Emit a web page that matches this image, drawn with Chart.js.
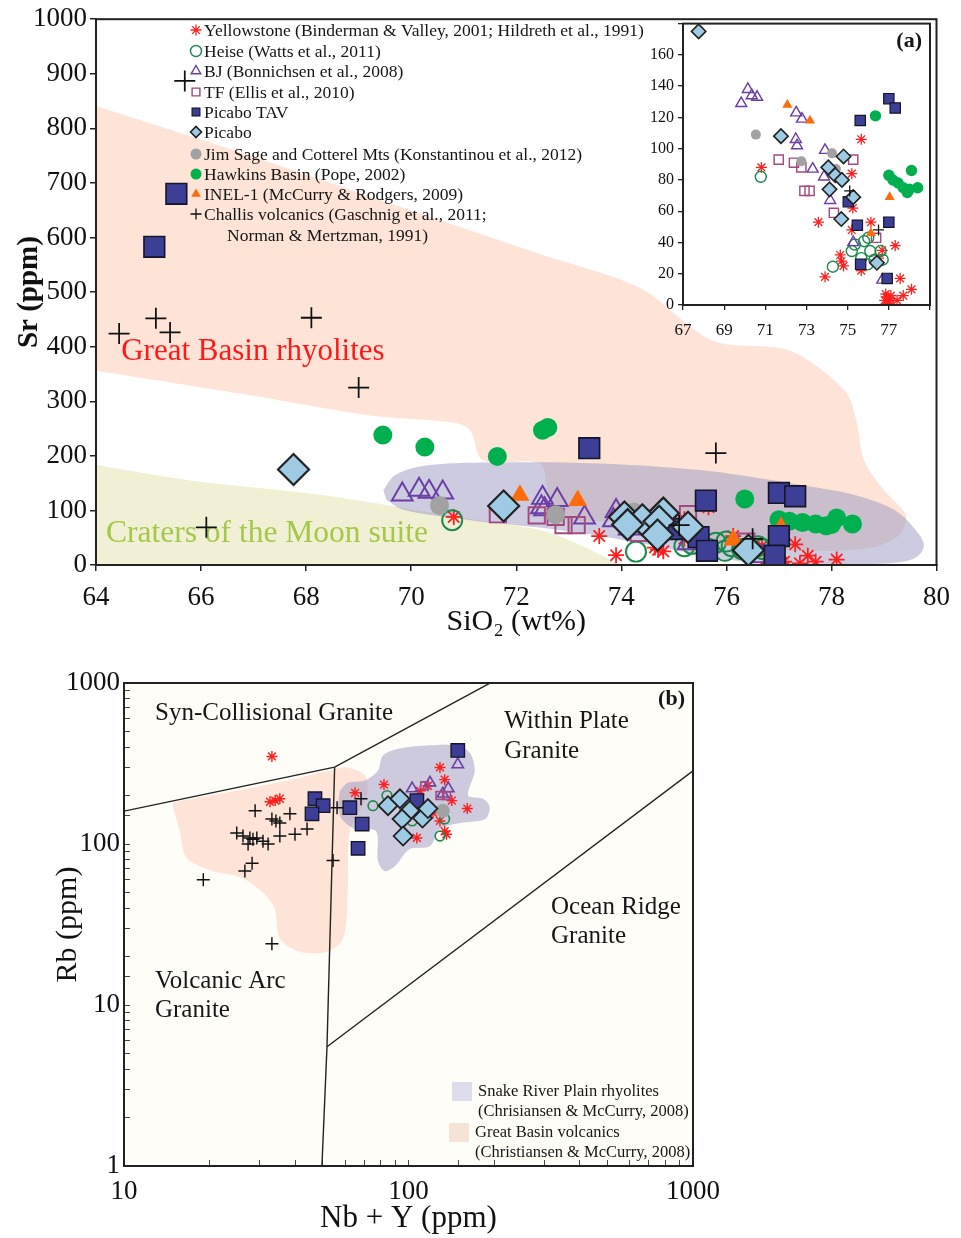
<!DOCTYPE html>
<html><head><meta charset="utf-8">
<script src="https://cdn.jsdelivr.net/npm/chart.js@4.4.1/dist/chart.umd.min.js"></script>
<style>
html,body{margin:0;padding:0;background:#fff;}
#wrap{position:relative;width:961px;height:1238px;overflow:hidden;}
canvas{position:absolute;}
</style></head><body>
<div id="wrap">
<canvas id="ca" style="left:0;top:0" width="961" height="645"></canvas>
<canvas id="ci" style="left:640px;top:10px" width="300" height="335"></canvas>
<canvas id="cb" style="left:0;top:650px" width="961" height="588"></canvas>
</div>
<script>
// ---------------- DATA: panel (a)  [SiO2 wt%, Sr ppm] ----------------
const yellowstoneA = [[75.66,106],[70.81,88],[75.2,84],[75.25,62],[73.58,53],[76.13,53],[75.2,48],[74.64,32],[74.8,25],[73.9,18],[75.66,22],[76.68,35],[77.31,38],[77.55,17],[78.1,10],[77.4,3],[77.7,6],[76.9,5],[77.0,2],[76.85,7],[77.05,4],[76.95,1],[76.8,3],[77.1,6],[76.5,30],[74.7,28]];
const heiseA = [[70.78,82],[74.28,24.5],[75.35,38.7],[75.8,40.8],[76.1,34.5],[76.3,29],[76.7,29],[75.97,26],[75.66,30],[76.6,34.5],[75.2,34.5],[76.0,43]];
const bjA = [[70.15,138],[69.83,129],[70.34,134],[70.6,133],[72.5,123],[72.78,119],[72.48,106],[72.54,102],[73.3,87],[73.9,99],[73.85,82],[74.15,67],[75.27,40],[76.68,16]];
const tfA = [[71.65,93],[72.39,91],[72.75,88],[72.9,73],[73.15,73],[75.27,93],[74.33,59],[76.38,43]];
const tavA = [[65.53,680],[65.11,583],[73.39,214],[75.61,118],[77.0,132],[77.31,126],[75.03,66],[75.47,51],[75.63,26],[77.0,53],[76.92,17]];
const picaboA = [[67.76,175],[71.76,108],[74.8,95],[74.06,88],[74.4,83],[74.72,80],[74.12,74],[75.27,69],[74.69,55],[76.42,27]];
const jimSageA = [[70.54,109],[72.75,92],[74.24,97],[74.43,87]];
const hawkinsA = [[69.46,238],[70.26,216],[71.64,199],[72.5,247],[72.6,252],[76.35,121],[77.0,83],[77.2,80],[77.45,78],[77.7,75],[77.9,72],[78.1,86],[78.4,75],[78.0,74]];
const inelA = [[72.07,128],[73.17,118],[76.13,46],[77.04,69]];
const challisA = [[65.69,887],[64.44,424],[65.14,452],[65.41,426],[68.1,453],[69.0,325],[75.8,205],[66.1,69],[75.1,73],[76.5,48]];
// field outlines (a)
const greatBasinA = [[64,841],[66.94,750],[70.17,644],[72.45,570],[74.35,508],[75.74,411],[77.2,393],[78.25,320],[78.47,265],[78.62,192],[79.0,137],[79.42,91],[79.29,55],[78.72,31],[77.01,27],[75.49,49],[73.97,79],[72.83,86],[72.6,137],[72.45,186],[71.37,192],[71.12,247],[70.8,261],[69.22,274],[66.94,311],[64,356]];
const srpA = [[69.47,137],[69.7,165],[70.36,183],[71.69,188],[73.59,186],[75.49,174],[76.63,159],[77.77,141],[78.53,126],[79.19,101],[79.57,68],[79.76,37],[79.63,15],[79.29,5],[78.34,1],[76.63,4],[75.49,18],[74.54,37],[72.83,64],[71.12,82],[69.85,101],[69.53,119]];
const cratersA = [[64,183],[65.8,155],[68.33,128],[70.88,88],[72.45,64],[73.21,37],[73.88,5],[74.07,0],[64,0]];
const aXTicks = [64,66,68,70,72,74,76,78,80];
const aYTicks = [0,100,200,300,400,500,600,700,800,900,1000];
const insetXTicks = [67,69,71,73,75,77,79];
const insetYTicks = [0,20,40,60,80,100,120,140,160,180];

// ---------------- DATA: panel (b)  [Nb+Y ppm, Rb ppm] ----------------
const yellowstoneB = [[33.1,350],[34,186],[35.3,191],[32.6,183],[64.9,208],[82,234],[129,299],[134,251],[142,186],[161,166],[107,109],[129,139],[122,156],[117,230],[134,120],[110,214],[136,115]];
const heiseB = [[75,173],[84,200],[103,139],[129,112],[134,143],[112,170]];
const bjB = [[103,221],[119,240],[138,221],[149,312],[132,205]];
const tfB = [[114,230],[129,200],[136,200]];
const tavB = [[46.9,191],[50.1,173],[45.8,154],[62.2,168],[68.7,133],[66.5,94],[149,381],[107,186]];
const picaboB = [[84.7,173],[93.3,191],[101,161],[94.9,143],[112,145],[95.7,112],[117,166]];
const jimSageB = [[105,166],[112,168],[132,161]];
const challisB = [[28.9,161],[33.1,143],[34.2,139],[35.3,135],[38.3,154],[24.9,117],[26.2,112],[27.7,109],[28.4,107],[29.3,109],[30.8,104],[32.1,100],[27.3,100],[35.3,112],[39.9,115],[44.0,124],[28.2,76],[26.6,68],[19.0,60],[33.1,24],[54.3,79],[56.1,168],[68.1,191]];
const greatBasinB = [[14.9,182],[18.5,195],[27.7,222],[41.6,258],[54.3,290],[60.8,299],[70.3,266],[71.5,200],[62.2,120],[61.2,53],[58.9,25.9],[51.7,21.4],[41.6,21.4],[35.3,25.9],[33.4,42.2],[26.2,61.3],[20.6,67.8],[16.6,81.8],[15.7,120],[14.9,168]];
const srpB = [[57.4,214],[61.2,240],[70.3,248],[78.1,286],[81.3,355],[93.3,392],[119,410],[146,410],[164,370],[171,286],[162,200],[183,191],[193,170],[186,143],[152,135],[129,124],[119,97],[101,93],[89.7,72.9],[82.6,67.8],[78.1,78.3],[76.9,120],[64.9,124],[58.3,143],[56.5,173]];
const colgLine = [[10,160],[55,300],[210,1080]];
const vagLine = [[55,300],[51.7,5.5],[49.5,0.9]];
const orgLine = [[51.7,5.5],[1000,285]];

// ---------------- STYLE ----------------
const SERIF = "'Liberation Serif','Times New Roman',serif";
const CLEAR = 'rgba(255,255,255,0)';
const STY = {
  yellowstone:{ps:'star', bc:'#ff1f1f', bg:'#ff1f1f', bw:1.6},
  heise:{ps:'circle', bc:'#1b8a4b', bg:CLEAR, bw:1.8},
  bj:{ps:'triangle', bc:'#6b3fa6', bg:CLEAR, bw:1.8},
  tf:{ps:'rect', bc:'#a54a80', bg:CLEAR, bw:1.8},
  tav:{ps:'rect', bc:'#15152a', bg:'#3d3f96', bw:1.5},
  picabo:{ps:'rectRot', bc:'#222', bg:'#9ecae4', bw:2},
  jimsage:{ps:'circle', bc:'#a2a2a2', bg:'#a2a2a2', bw:0},
  hawkins:{ps:'circle', bc:'#00b04f', bg:'#00b04f', bw:0},
  inel:{ps:'triangle', bc:'#ff6a0a', bg:'#ff6a0a', bw:0},
  challis:{ps:'cross', bc:'#111', bg:'#111', bw:1.6}
};
const ORDER = {yellowstone:10, heise:9, bj:8, tf:7, hawkins:6, jimsage:5, inel:4, tav:3, picabo:2, challis:1};
const PEACH = 'rgb(253,228,214)';
const SRP = 'rgba(153,151,193,0.5)';
const CRATERS = 'rgb(241,240,212)';

function xy(arr){ return arr.map(p=>({x:p[0], y:p[1]})); }
function markers(key, arr, r, bwScale){
  const s = STY[key]; const k = bwScale||1;
  return {type:'scatter', label:key, data:xy(arr), pointStyle:s.ps, pointRadius:r, pointHoverRadius:r,
    borderColor:s.bc, backgroundColor:s.bg, pointBorderColor:s.bc, pointBackgroundColor:s.bg,
    pointBorderWidth:s.bw*k, borderWidth:s.bw*k, order:ORDER[key], showLine:false};
}
function region(label, arr, color, order, tension){
  return {type:'line', label, data:xy(arr), borderWidth:0, borderColor:CLEAR, backgroundColor:color,
    pointRadius:0, pointHoverRadius:0, fill:'shape', tension:tension, order};
}
function boundary(arr){
  return {type:'line', label:'boundary', data:xy(arr), borderWidth:1.4, borderColor:'#222', pointRadius:0, fill:false, tension:0, order:25};
}
const framePlugin = {id:'frame', afterDraw(chart){
  const {ctx, chartArea:a} = chart; ctx.save(); ctx.strokeStyle='#222'; ctx.lineWidth=2;
  ctx.strokeRect(a.left, a.top, a.right-a.left, a.bottom-a.top); ctx.restore(); }};
function bgPlugin(color){ return {id:'bg', beforeDraw(chart){ const {ctx, chartArea:a}=chart; ctx.save(); ctx.fillStyle=color; ctx.fillRect(a.left,a.top,a.right-a.left,a.bottom-a.top); ctx.restore(); }}; }
function fixedTicks(list){ return function(scale){ scale.ticks = list.map(v=>({value:v})); }; }
const plainLabel = v => String(v);

// ---------------- PANEL (a) ----------------
const aNotes = [
  {text:'Great Basin rhyolites', x:64.48, y:390, color:'#ff1a1a', size:31},
  {text:'Craters of the Moon suite', x:64.19, y:58, color:'#a3c84a', size:31.5}
];
const aLegend = [
  ['yellowstone','Yellowstone (Binderman & Valley, 2001; Hildreth et al., 1991)'],
  ['heise','Heise (Watts et al., 2011)'],
  ['bj','BJ (Bonnichsen et al., 2008)'],
  ['tf','TF (Ellis et al., 2010)'],
  ['tav','Picabo TAV'],
  ['picabo','Picabo'],
  ['jimsage','Jim Sage and Cotterel Mts (Konstantinou et al., 2012)'],
  ['hawkins','Hawkins Basin (Pope, 2002)'],
  ['inel','INEL-1 (McCurry & Rodgers, 2009)'],
  ['challis','Challis volcanics (Gaschnig et al., 2011;'],
  [null,'Norman & Mertzman, 1991)']
];
const LEG_Y = [30,51,71,92,112,132,154,174,194,214,235];
const notesA = {id:'notesA', afterDatasetDraw(chart, args){
  if (chart.data.datasets[args.index].label !== 'srp') return;
  const ctx = chart.ctx, xs = chart.scales.x, ys = chart.scales.y;
  ctx.save(); ctx.textBaseline='middle'; ctx.textAlign='left';
  aNotes.forEach(n=>{ ctx.font = n.size+'px '+SERIF; ctx.fillStyle=n.color; ctx.fillText(n.text, xs.getPixelForValue(n.x), ys.getPixelForValue(n.y)); });
  ctx.restore(); }};
const legendA = {id:'legendA', afterDraw(chart){
  const ctx = chart.ctx; ctx.save(); ctx.textBaseline='middle'; ctx.textAlign='left';
  aLegend.forEach((row,i)=>{
    const y = LEG_Y[i];
    if (row[0]) { const s = STY[row[0]]; ctx.strokeStyle=s.bc; ctx.fillStyle=s.bg; ctx.lineWidth=s.bw*0.8;
      Chart.helpers.drawPoint(ctx, {pointStyle:s.ps, radius:5.5, borderWidth:s.bw*0.8, rotation:0}, 196, y); }
    ctx.font = '17.5px '+SERIF; ctx.fillStyle='#151515';
    ctx.fillText(row[1], row[0] ? 204 : 227, y+1);
  });
  ctx.restore(); }};

const sizeA = {yellowstone:8, heise:10, bj:12, tf:11.5, tav:14.6, picabo:15.5, jimsage:9.5, hawkins:9.5, inel:11, challis:10.5};
const sizeI = {yellowstone:5.5, heise:5.5, bj:6.3, tf:6.5, tav:7.3, picabo:7.2, jimsage:5, hawkins:5.7, inel:5.8, challis:5.5};
const seriesA = {yellowstone:yellowstoneA, heise:heiseA, bj:bjA, tf:tfA, hawkins:hawkinsA, jimsage:jimSageA, inel:inelA, tav:tavA, picabo:picaboA, challis:challisA};

new Chart(document.getElementById('ca'), {
  type:'scatter',
  data:{datasets:[
    region('greatBasin', greatBasinA, PEACH, 30, 0.3),
    region('craters', cratersA, CRATERS, 29, 0.3),
    region('srp', srpA, SRP, 28, 0.35),
    ...Object.keys(seriesA).map(k=>markers(k, seriesA[k], sizeA[k], 1.1))
  ]},
  options:{
    responsive:false, animation:false, devicePixelRatio:1,
    layout:{padding:{left:8, top:18, right:23, bottom:0}},
    plugins:{legend:{display:false}, tooltip:{enabled:false}},
    scales:{
      x:{type:'linear', min:64, max:80, afterFit(s){s.height=80;}, afterBuildTicks:fixedTicks(aXTicks),
        ticks:{font:{family:SERIF,size:27}, color:'#111', padding:11, maxRotation:0, callback:plainLabel},
        grid:{drawOnChartArea:false, tickLength:6, color:'#222', lineWidth:1.5},
        border:{color:'#222', width:2},
        title:{display:true, text:'SiO₂ (wt%)', font:{family:SERIF,size:30}, color:'#111', padding:{top:0,bottom:5}}},
      y:{type:'linear', min:0, max:1000, afterFit(s){s.width=88;}, afterBuildTicks:fixedTicks(aYTicks),
        ticks:{font:{family:SERIF,size:27}, color:'#111', padding:3, callback:plainLabel},
        grid:{drawOnChartArea:false, tickLength:6, color:'#222', lineWidth:1.5},
        border:{color:'#222', width:2},
        title:{display:true, text:'Sr (ppm)', font:{family:SERIF,size:29,weight:'bold'}, color:'#111', padding:{top:4,bottom:0}}}
    }
  },
  plugins:[framePlugin, notesA, legendA]
});

// ---------------- INSET of (a) ----------------
const labelInset = {id:'labelInset', afterDraw(chart){
  const {ctx, chartArea:a} = chart; ctx.save(); ctx.font='bold 22px '+SERIF; ctx.fillStyle='#151515';
  ctx.textAlign='right'; ctx.textBaseline='middle'; ctx.fillText('(a)', a.right-8, a.top+18); ctx.restore(); }};
new Chart(document.getElementById('ci'), {
  type:'scatter',
  data:{datasets:Object.keys(seriesA).map(k=>Object.assign(markers(k, seriesA[k], sizeI[k], 0.8), {clip:1}))},
  options:{
    responsive:false, animation:false, devicePixelRatio:1,
    layout:{padding:{left:0, top:8, right:3, bottom:0}},
    plugins:{legend:{display:false}, tooltip:{enabled:false}},
    scales:{
      x:{type:'linear', min:67, max:79, afterFit(s){s.height=40;}, afterBuildTicks:fixedTicks(insetXTicks),
        ticks:{font:{family:SERIF,size:17}, color:'#111', padding:10, maxRotation:0, callback:v=> v===79?'':String(v)},
        grid:{drawOnChartArea:false, tickLength:5, color:'#222', lineWidth:1.3},
        border:{color:'#222', width:2}},
      y:{type:'linear', min:0, max:180, afterFit(s){s.width=43;}, afterBuildTicks:fixedTicks(insetYTicks),
        ticks:{font:{family:SERIF,size:16}, color:'#111', padding:4, callback:v=> v===180?'':String(v)},
        grid:{drawOnChartArea:false, tickLength:5, color:'#222', lineWidth:1.3},
        border:{color:'#222', width:2}}
    }
  },
  plugins:[bgPlugin('#ffffff'), framePlugin, labelInset]
});

// ---------------- PANEL (b) ----------------
const bNotes = [
  {text:'Syn-Collisional Granite', x:12.85, y:649},
  {text:'Within Plate', x:217, y:579},
  {text:'Granite', x:217, y:376},
  {text:'Ocean Ridge', x:317, y:40.4},
  {text:'Granite', x:317, y:26.6},
  {text:'Volcanic Arc', x:12.85, y:14.1},
  {text:'Granite', x:12.85, y:9.2}
];
const bLegend = [
  {swatch:'rgb(222,221,238)', lines:['Snake River Plain rhyolites','(Chrisiansen & McCurry, 2008)'], top:1082-650, tx:478},
  {swatch:'rgb(247,226,214)', lines:['Great Basin volcanics','(Christiansen & McCurry, 2008)'], top:1123-650, tx:475}
];
const notesB = {id:'notesB', afterDraw(chart){
  const ctx = chart.ctx, xs = chart.scales.x, ys = chart.scales.y;
  ctx.save(); ctx.textBaseline='middle'; ctx.textAlign='left'; ctx.fillStyle='#161616'; ctx.font='25px '+SERIF;
  bNotes.forEach(n=> ctx.fillText(n.text, xs.getPixelForValue(n.x), ys.getPixelForValue(n.y)));
  ctx.font='bold 22px '+SERIF; ctx.textAlign='right'; ctx.fillText('(b)', chart.chartArea.right-8, chart.chartArea.top+16);
  ctx.textAlign='left'; ctx.font='16.5px '+SERIF;
  bLegend.forEach(g=>{ ctx.fillStyle=g.swatch; ctx.fillRect(g.tx-26, g.top, 20, 19); ctx.fillStyle='#161616';
    g.lines.forEach((t,i)=> ctx.fillText(t, g.tx, g.top+10+i*20)); });
  ctx.restore(); }};
function decadeLabel(v){ const l=Math.log10(v); return Math.abs(l-Math.round(l))<1e-6 ? String(v) : ''; }
const sizeB = {yellowstone:5.5, heise:4.8, bj:6.5, tf:5.5, tav:9.5, picabo:9.5, jimsage:7, challis:6.5};
const seriesB = {yellowstone:yellowstoneB, heise:heiseB, bj:bjB, tf:tfB, jimsage:jimSageB, tav:tavB, picabo:picaboB, challis:challisB};
new Chart(document.getElementById('cb'), {
  type:'scatter',
  data:{datasets:[
    region('greatBasin', greatBasinB, PEACH, 30, 0.3),
    region('srp', srpB, SRP, 28, 0.3),
    boundary(colgLine), boundary(vagLine), boundary(orgLine),
    ...Object.keys(seriesB).map(k=>markers(k, seriesB[k], sizeB[k], 0.9))
  ]},
  options:{
    responsive:false, animation:false, devicePixelRatio:1,
    layout:{padding:{left:50, top:33, right:268, bottom:0}},
    plugins:{legend:{display:false}, tooltip:{enabled:false}},
    scales:{
      x:{type:'logarithmic', min:10, max:1000, afterFit(s){s.height=72;},
        ticks:{font:{family:SERIF,size:27}, color:'#111', padding:16, autoSkip:false, maxRotation:0, callback:decadeLabel},
        grid:{drawOnChartArea:false, tickLength:-6, color:'#444', lineWidth:1},
        border:{color:'#222', width:2},
        title:{display:true, text:'Nb + Y (ppm)', font:{family:SERIF,size:31}, color:'#111', padding:{top:0,bottom:1}}},
      y:{type:'logarithmic', min:1, max:1000, afterFit(s){s.width=74;},
        ticks:{font:{family:SERIF,size:27}, color:'#111', padding:10, autoSkip:false, callback:decadeLabel},
        grid:{drawOnChartArea:false, tickLength:-6, color:'#444', lineWidth:1},
        border:{color:'#222', width:2},
        title:{display:true, text:'Rb (ppm)', font:{family:SERIF,size:30}, color:'#111', padding:{top:0,bottom:0}}}
    }
  },
  plugins:[bgPlugin('#fefdf7'), framePlugin, notesB]
});
</script>
</body></html>
